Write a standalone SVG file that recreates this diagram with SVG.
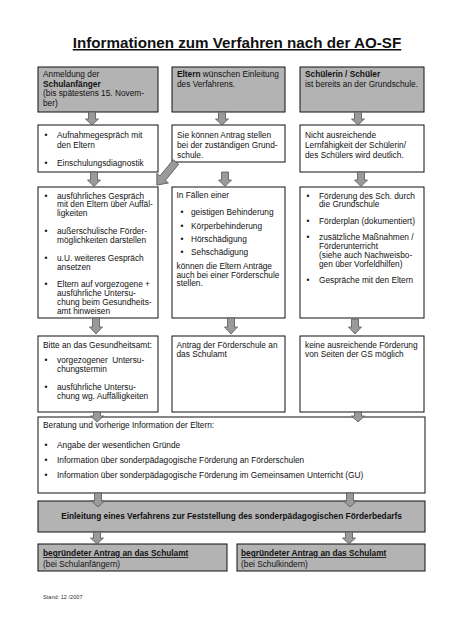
<svg xmlns="http://www.w3.org/2000/svg" width="452" height="640" viewBox="0 0 452 640">
<style>
text{font-family:"Liberation Sans",Arial,sans-serif;font-size:8.3px;fill:#111}
.b{font-weight:bold}
.u{text-decoration:underline}
.title{font-size:15.2px;font-weight:bold;text-decoration:underline;text-anchor:middle}
.bul{text-anchor:middle}
.box{fill:#fff;stroke:#111;stroke-width:1}
.gbox{fill:#b3b3b3;stroke:#111;stroke-width:1}
.arr{fill:#9a9a9a;stroke:#555;stroke-width:0.8}
.foot{font-size:5.6px;fill:#333}
</style>
<rect width="452" height="640" fill="#fff"/>
<text class="title" x="237" y="48">Informationen zum Verfahren nach der AO-SF</text>

<g id="n1">
<rect class="gbox" x="38" y="67" width="120" height="45"/>
<text x="43" y="77">Anmeldung der</text>
<text x="43" y="86.5" class="b">Schulanfänger</text>
<text x="43" y="96">(bis spätestens 15. Novem-</text>
<text x="43" y="105.5">ber)</text>
</g>
<g id="n2">
<rect class="gbox" x="172" y="67" width="113" height="45"/>
<text x="177" y="77"><tspan class="b">Eltern</tspan> wünschen Einleitung</text>
<text x="177" y="86.5">des Verfahrens.</text>
</g>
<g id="n3">
<rect class="gbox" x="300" y="67" width="124" height="45"/>
<text x="305" y="77" class="b">Schülerin / Schüler</text>
<text x="305" y="86.5">ist bereits an der Grundschule.</text>
</g>

<g id="n4">
<rect class="box" x="38" y="125" width="120" height="47"/>
<text class="bul" x="46" y="138">•</text><text x="57" y="138">Aufnahmegespräch mit</text>
<text x="57" y="148">den Eltern</text>
<text class="bul" x="46" y="165.5">•</text><text x="57" y="165.5">Einschulungsdiagnostik</text>
</g>
<g id="n5">
<rect class="box" x="172" y="125" width="113" height="37"/>
<text x="177" y="138">Sie können Antrag stellen</text>
<text x="177" y="148">bei der zuständigen Grund-</text>
<text x="177" y="158">schule.</text>
</g>
<g id="n6">
<rect class="box" x="300" y="125" width="124" height="47"/>
<text x="305" y="138">Nicht ausreichende</text>
<text x="305" y="148">Lernfähigkeit der Schülerin/</text>
<text x="305" y="158">des Schülers wird deutlich.</text>
</g>

<g id="n7">
<rect class="box" x="38" y="187" width="120" height="131"/>
<text class="bul" x="46" y="198.5">•</text><text x="57" y="198.5">ausführliches Gespräch</text>
<text x="57" y="207">mit den Eltern über Auffäl-</text>
<text x="57" y="216">ligkeiten</text>
<text class="bul" x="46" y="234">•</text><text x="57" y="234">außerschulische Förder-</text>
<text x="57" y="243">möglichkeiten darstellen</text>
<text class="bul" x="46" y="260.5">•</text><text x="57" y="260.5">u.U. weiteres Gespräch</text>
<text x="57" y="269.5">ansetzen</text>
<text class="bul" x="46" y="287">•</text><text x="57" y="287">Eltern auf vorgezogene +</text>
<text x="57" y="296">ausführliche Untersu-</text>
<text x="57" y="305">chung beim Gesundheits-</text>
<text x="57" y="314">amt hinweisen</text>
</g>
<g id="n8">
<rect class="box" x="172" y="187" width="113" height="131"/>
<text x="176.5" y="198">In Fällen einer</text>
<text class="bul" x="182" y="215">•</text><text x="191" y="215">geistigen Behinderung</text>
<text class="bul" x="182" y="228.5">•</text><text x="191" y="228.5">Körperbehinderung</text>
<text class="bul" x="182" y="241.5">•</text><text x="191" y="241.5">Hörschädigung</text>
<text class="bul" x="182" y="254.5">•</text><text x="191" y="254.5">Sehschädigung</text>
<text x="176.5" y="269">können die Eltern Anträge</text>
<text x="176.5" y="277.5">auch bei einer Förderschule</text>
<text x="176.5" y="286">stellen.</text>
</g>
<g id="n9">
<rect class="box" x="300" y="187" width="124" height="131"/>
<text class="bul" x="308" y="198.5">•</text><text x="319" y="198.5">Förderung des Sch. durch</text>
<text x="319" y="207">die Grundschule</text>
<text class="bul" x="308" y="223.5">•</text><text x="319" y="223.5">Förderplan (dokumentiert)</text>
<text class="bul" x="308" y="239.5">•</text><text x="319" y="239.5">zusätzliche Maßnahmen /</text>
<text x="319" y="248.5">Förderunterricht</text>
<text x="319" y="257.5">(siehe auch Nachweisbo-</text>
<text x="319" y="266.5">gen über Vorfeldhilfen)</text>
<text class="bul" x="308" y="283">•</text><text x="319" y="283">Gespräche mit den Eltern</text>
</g>

<g id="n10">
<rect class="box" x="38" y="336" width="120" height="76"/>
<text x="43" y="348">Bitte an das Gesundheitsamt:</text>
<text class="bul" x="46" y="363">•</text><text x="57" y="363" xml:space="preserve">vorgezogener  Untersu-</text>
<text x="57" y="372">chungstermin</text>
<text class="bul" x="46" y="389.5">•</text><text x="57" y="389.5">ausführliche Untersu-</text>
<text x="57" y="398.5">chung wg. Auffälligkeiten</text>
</g>
<g id="n11">
<rect class="box" x="172" y="336" width="113" height="76"/>
<text x="176.5" y="348">Antrag der Förderschule an</text>
<text x="176.5" y="357">das Schulamt</text>
</g>
<g id="n12">
<rect class="box" x="300" y="336" width="124" height="76"/>
<text x="305" y="348">keine ausreichende Förderung</text>
<text x="305" y="357">von Seiten der GS möglich</text>
</g>

<g id="n13">
<rect class="box" x="38" y="417" width="387" height="76"/>
<text x="43" y="428">Beratung und vorherige Information der Eltern:</text>
<text class="bul" x="46" y="448">•</text><text x="57" y="448">Angabe der wesentlichen Gründe</text>
<text class="bul" x="46" y="463">•</text><text x="57" y="463">Information über sonderpädagogische Förderung an Förderschulen</text>
<text class="bul" x="46" y="478">•</text><text x="57" y="478">Information über sonderpädagogische Förderung im Gemeinsamen Unterricht (GU)</text>
</g>

<g id="n14">
<rect class="gbox" x="38" y="501" width="387" height="31"/>
<text x="231.5" y="519" class="b" text-anchor="middle">Einleitung eines Verfahrens zur Feststellung des sonderpädagogischen Förderbedarfs</text>
</g>

<g id="n15">
<rect class="gbox" x="38" y="544" width="189" height="27"/>
<text x="43" y="556" class="b u">begründeter Antrag an das Schulamt</text>
<text x="43" y="566.5">(bei Schulanfängern)</text>
</g>
<g id="n16">
<rect class="gbox" x="237" y="544" width="188" height="27"/>
<text x="241" y="556" class="b u">begründeter Antrag an das Schulamt</text>
<text x="241" y="566.5">(bei Schulkindern)</text>
</g>

<g id="connectors">
<path class="arr" d="M88.5,112 H95.5 V119 H98.5 L92,125 L85.5,119 H88.5 Z"/>
<path class="arr" d="M218.5,112 H225.5 V119 H228.5 L222,125 L215.5,119 H218.5 Z"/>
<path class="arr" d="M354.5,112 H361.5 V119 H364.5 L358,125 L351.5,119 H354.5 Z"/>

<path class="arr" d="M90.5,172 H97.5 V180 H100.5 L94,186.5 L87.5,180 H90.5 Z"/>
<path class="arr" d="M221.5,172 H228.5 V180 H231.5 L225,186.5 L218.5,180 H221.5 Z"/>
<path class="arr" d="M357.5,172 H364.5 V180 H367.5 L361,186.5 L354.5,180 H357.5 Z"/>

<path class="arr" transform="translate(176,162) rotate(129.6)" d="M0,-3.5 H21 V-7.5 L30,0 L21,7.5 V3.5 H0 Z"/>

<path class="arr" d="M92.5,318 H99.5 V327 H102.5 L96,334 L89.5,327 H92.5 Z"/>
<path class="arr" d="M227.5,318 H234.5 V327 H237.5 L231,334 L224.5,327 H227.5 Z"/>
<path class="arr" d="M351.5,319 H358.5 V327 H361.5 L355,334 L348.5,327 H351.5 Z"/>

<path class="arr" d="M93.5,412 H100.5 V416 H103.5 L97,422 L90.5,416 H93.5 Z"/>
<path class="arr" d="M354.5,412 H361.5 V416 H364.5 L358,422 L351.5,416 H354.5 Z"/>

<path class="arr" d="M94.5,493 H101.5 V501 H104.5 L98,507 L91.5,501 H94.5 Z"/>
<path class="arr" d="M346.5,493 H353.5 V501 H356.5 L350,507 L343.5,501 H346.5 Z"/>

<path class="arr" d="M93.5,532 H100.5 V538 H103.5 L97,544 L90.5,538 H93.5 Z"/>
<path class="arr" d="M345.5,532 H352.5 V538 H355.5 L349,544 L342.5,538 H345.5 Z"/>
</g>

<text class="foot" x="43" y="599">Stand: 12 /2007</text>
</svg>
